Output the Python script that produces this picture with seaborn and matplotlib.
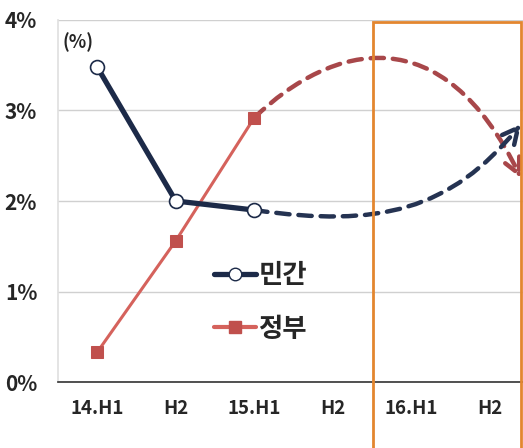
import matplotlib
matplotlib.use('Agg')
import matplotlib.pyplot as plt
import numpy as np
import pandas as pd
import seaborn as sns
from matplotlib.path import Path
from matplotlib.patches import FancyArrowPatch, Rectangle
from matplotlib.lines import Line2D

# data
periods = ['14.H1', 'H2', '15.H1', 'H2', '16.H1', 'H2']
private = [3.48, 2.00, 1.90]
government = [0.33, 1.56, 2.92]
y_ticks = [0, 1, 2, 3, 4]
y_labels = ['0%', '1%', '2%', '3%', '4%']
# hand-drawn projection arrows (bezier control points, x = period index)
private_proj = [(2.0, 1.90), (3.6, 1.70), (4.5, 1.90), (5.40, 2.85)]
government_proj = [(2.0, 2.92), (3.0, 3.75), (4.4, 4.05), (5.40, 2.25)]

navy = '#1C2A48'
red_line = '#D5625C'
red_mark = '#C0504D'
orange = '#E3862F'

sns.set_theme(style='white')
plt.rcParams['font.family'] = ['Noto Sans CJK KR', 'DejaVu Sans']
plt.rcParams['font.weight'] = 'bold'

df = pd.DataFrame({
    'idx': list(range(3)) * 2,
    'val': private + government,
    'series': ['민간'] * 3 + ['정부'] * 3,
})

fig = plt.figure(figsize=(5.23, 4.48), dpi=100)
ax = fig.add_axes([58 / 523, 66 / 448, 471 / 523, 362 / 448])

sns.lineplot(data=df[df.series == '민간'], x='idx', y='val', ax=ax, color=navy, lw=3.8,
             marker='o', markersize=10, markerfacecolor='white', markeredgecolor=navy,
             markeredgewidth=1.2, zorder=4)
sns.lineplot(data=df[df.series == '정부'], x='idx', y='val', ax=ax, color=red_line, lw=2.2,
             marker='s', markersize=9, markerfacecolor=red_mark, markeredgecolor=red_mark,
             zorder=3)

codes = [Path.MOVETO, Path.CURVE4, Path.CURVE4, Path.CURVE4]
for pts, col in [(government_proj, '#A8474A'), (private_proj, '#253352')]:
    arr = FancyArrowPatch(path=Path(pts, codes), arrowstyle='->', mutation_scale=28,
                          color=col, lw=3.2, linestyle=(0, (3, 2)), zorder=2, clip_on=False)
    ax.add_patch(arr)

ax.set_xlim(-0.5, 5.5)
ax.set_ylim(0, 4)
ax.set_yticks(y_ticks)
ax.set_yticklabels(y_labels, fontsize=15, fontweight='bold')
ax.set_xticks(range(6))
ax.set_xticklabels(periods, fontsize=13.5, fontweight='bold')
ax.set_xticks(np.arange(-0.5, 6, 1), minor=True)
ax.tick_params(axis='x', which='major', length=0, pad=12)
ax.tick_params(axis='x', which='minor', length=7, width=1.2, color='#333333', direction='out')
ax.tick_params(axis='y', length=0, pad=15)
ax.grid(axis='y', color='#D0D0D0', lw=1)
ax.set_xlabel('')
ax.set_ylabel('')
for s in ['top', 'right']:
    ax.spines[s].set_visible(False)
ax.spines['left'].set_color('#E0E0E0')
ax.spines['bottom'].set_color('#333333')
ax.spines['bottom'].set_linewidth(1.2)

ax.text(0.01, 0.965, '(%)', transform=ax.transAxes, fontsize=13, fontweight='bold',
        va='top', ha='left')

handles = [
    Line2D([], [], color=navy, lw=3.8, marker='o', markersize=9, markerfacecolor='white',
           markeredgecolor=navy),
    Line2D([], [], color=red_line, lw=3, marker='s', markersize=8, markerfacecolor=red_mark,
           markeredgecolor=red_mark),
]
ax.legend(handles, ['민간', '정부'], loc='center left', bbox_to_anchor=(0.28, 0.22),
          frameon=False, handlelength=1.6, handletextpad=0.1, labelspacing=1.0,
          prop={'size': 19, 'weight': 'bold'})

fig.patches.append(Rectangle((373 / 523, -0.05), 148 / 523, 1 - 22 / 448 + 0.05,
                             transform=fig.transFigure, fill=False, edgecolor=orange, lw=2,
                             zorder=10))

fig.savefig('out.png', dpi=100)
